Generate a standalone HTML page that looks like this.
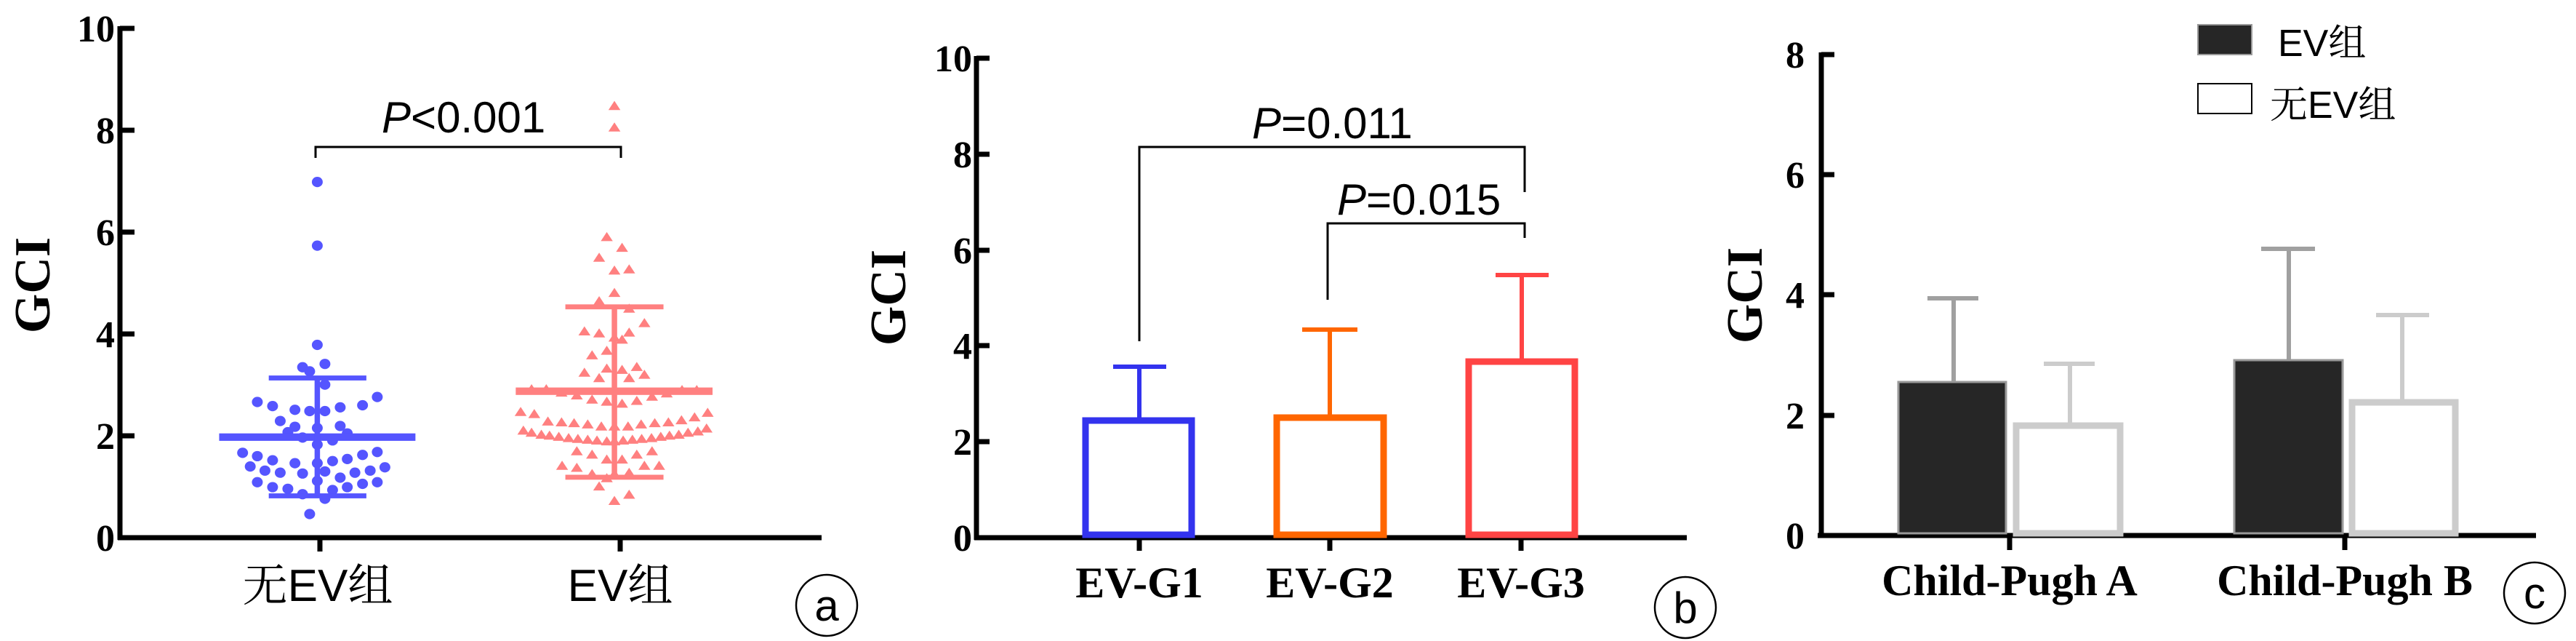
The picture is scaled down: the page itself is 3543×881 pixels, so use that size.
<!DOCTYPE html>
<html><head><meta charset="utf-8"><style>
html,body{margin:0;padding:0;background:#fff;}
svg{display:block}
.tk{font-family:"Liberation Serif",serif;font-weight:bold;font-size:52px;fill:#000}
.gci{font-family:"Liberation Serif",serif;font-weight:bold;font-size:70px;fill:#000}
.cat{font-family:"Liberation Sans","Noto Serif CJK SC",serif;font-size:62px;fill:#000}
.catb{font-family:"Liberation Serif",serif;font-weight:bold;font-size:60px;fill:#000}
.p{font-family:"Liberation Sans",sans-serif;font-size:60px;fill:#000}
.lg{font-family:"Liberation Sans","Noto Serif CJK SC",serif;font-size:52px;fill:#000}
.lt{font-family:"Liberation Sans",sans-serif;font-size:60px;fill:#000}
</style></head><body>
<svg width="3543" height="881" viewBox="0 0 3543 881" xmlns="http://www.w3.org/2000/svg">
<defs>
<ellipse id="d" cx="0" cy="0" rx="10" ry="12.5" fill="#5555ff"/>
<path id="t" d="M-11,11 L11,11 L0,-11 Z" fill="#ff8080"/>
</defs>
<!-- PANEL A -->
<g stroke="#000" stroke-width="7" fill="none">
<line x1="165" y1="36" x2="165" y2="742"/>
<line x1="162" y1="739" x2="1130" y2="739"/>
<line x1="165" y1="39" x2="185" y2="39"/><line x1="165" y1="179" x2="185" y2="179"/><line x1="165" y1="319" x2="185" y2="319"/><line x1="165" y1="459" x2="185" y2="459"/><line x1="165" y1="599" x2="185" y2="599"/>
<line x1="440" y1="739" x2="440" y2="758"/><line x1="853" y1="739" x2="853" y2="758"/>
</g>
<g class="tk" text-anchor="end">
<text x="158" y="57">10</text><text x="158" y="197">8</text><text x="158" y="337">6</text><text x="158" y="477">4</text><text x="158" y="617">2</text><text x="158" y="757">0</text>
</g>
<text class="gci" transform="translate(68,392) rotate(-90)" text-anchor="middle">GCI</text>
<text class="cat" x="437" y="826" text-anchor="middle">无EV组</text>
<text class="cat" x="853" y="826" text-anchor="middle">EV组</text>
<text class="p" x="525" y="182"><tspan font-style="italic">P</tspan>&lt;0.001</text>
<path d="M434,217 V202 H854 V217" stroke="#000" stroke-width="3" fill="none"/>
<circle cx="1137" cy="832" r="42" stroke="#000" stroke-width="2.5" fill="none"/>
<text class="lt" x="1137" y="853" text-anchor="middle">a</text>
<svg x="0" y="0" width="1181" height="881" viewBox="0 0 1575 1550" preserveAspectRatio="none">
<g>
<use href="#d" x="582" y="440"/><use href="#d" x="582" y="594"/><use href="#d" x="582" y="834"/><use href="#d" x="555" y="888"/><use href="#d" x="568" y="898"/><use href="#d" x="596" y="880"/><use href="#d" x="596" y="930"/><use href="#d" x="472" y="972"/><use href="#d" x="500" y="982"/><use href="#d" x="541" y="991"/><use href="#d" x="568" y="994"/><use href="#d" x="596" y="994"/><use href="#d" x="624" y="985"/><use href="#d" x="665" y="980"/><use href="#d" x="692" y="960"/><use href="#d" x="514" y="1018"/><use href="#d" x="541" y="1032"/><use href="#d" x="582" y="1035"/><use href="#d" x="624" y="1030"/><use href="#d" x="528" y="1045"/><use href="#d" x="555" y="1058"/><use href="#d" x="610" y="1065"/><use href="#d" x="637" y="1048"/><use href="#d" x="445" y="1095"/><use href="#d" x="472" y="1103"/><use href="#d" x="500" y="1113"/><use href="#d" x="541" y="1120"/><use href="#d" x="582" y="1120"/><use href="#d" x="610" y="1115"/><use href="#d" x="637" y="1110"/><use href="#d" x="665" y="1100"/><use href="#d" x="692" y="1093"/><use href="#d" x="459" y="1128"/><use href="#d" x="486" y="1138"/><use href="#d" x="514" y="1143"/><use href="#d" x="555" y="1145"/><use href="#d" x="596" y="1140"/><use href="#d" x="651" y="1143"/><use href="#d" x="679" y="1138"/><use href="#d" x="706" y="1130"/><use href="#d" x="472" y="1166"/><use href="#d" x="500" y="1178"/><use href="#d" x="528" y="1182"/><use href="#d" x="582" y="1163"/><use href="#d" x="624" y="1155"/><use href="#d" x="665" y="1170"/><use href="#d" x="692" y="1166"/><use href="#d" x="555" y="1195"/><use href="#d" x="596" y="1206"/><use href="#d" x="637" y="1178"/><use href="#d" x="610" y="1185"/><use href="#d" x="568" y="1243"/><use href="#d" x="582" y="1075"/>
</g>
<g fill="#5555ff">
<rect x="402" y="1048" width="360" height="18"/>
<rect x="493" y="908" width="179" height="12"/>
<rect x="493" y="1193" width="179" height="12"/>
<rect x="577" y="914" width="10" height="285"/>
</g>
<g>
<use href="#t" x="1127" y="255"/><use href="#t" x="1127" y="307"/><use href="#t" x="1113" y="572"/><use href="#t" x="1141" y="598"/><use href="#t" x="1099" y="622"/><use href="#t" x="1127" y="653"/><use href="#t" x="1154" y="650"/><use href="#t" x="1099" y="727"/><use href="#t" x="1127" y="707"/><use href="#t" x="1154" y="745"/><use href="#t" x="1182" y="780"/><use href="#t" x="1072" y="800"/><use href="#t" x="1099" y="805"/><use href="#t" x="1127" y="815"/><use href="#t" x="1141" y="820"/><use href="#t" x="1154" y="803"/><use href="#t" x="1086" y="858"/><use href="#t" x="1113" y="847"/><use href="#t" x="1072" y="900"/><use href="#t" x="1099" y="913"/><use href="#t" x="1113" y="890"/><use href="#t" x="1141" y="893"/><use href="#t" x="1154" y="913"/><use href="#t" x="1168" y="886"/><use href="#t" x="1182" y="905"/><use href="#t" x="975" y="940"/><use href="#t" x="1002" y="940"/><use href="#t" x="1030" y="948"/><use href="#t" x="1058" y="955"/><use href="#t" x="1086" y="965"/><use href="#t" x="1113" y="970"/><use href="#t" x="1141" y="975"/><use href="#t" x="1168" y="968"/><use href="#t" x="1196" y="958"/><use href="#t" x="1223" y="950"/><use href="#t" x="1251" y="942"/><use href="#t" x="1278" y="942"/><use href="#t" x="955" y="995"/><use href="#t" x="980" y="1000"/><use href="#t" x="1005" y="1018"/><use href="#t" x="1030" y="1020"/><use href="#t" x="1053" y="1022"/><use href="#t" x="1078" y="1025"/><use href="#t" x="1103" y="1030"/><use href="#t" x="1127" y="1030"/><use href="#t" x="1152" y="1030"/><use href="#t" x="1176" y="1025"/><use href="#t" x="1201" y="1022"/><use href="#t" x="1226" y="1020"/><use href="#t" x="1250" y="1015"/><use href="#t" x="1274" y="1008"/><use href="#t" x="1298" y="997"/><use href="#t" x="960" y="1040"/><use href="#t" x="975" y="1045"/><use href="#t" x="993" y="1050"/><use href="#t" x="1008" y="1052"/><use href="#t" x="1025" y="1055"/><use href="#t" x="1043" y="1058"/><use href="#t" x="1060" y="1060"/><use href="#t" x="1078" y="1062"/><use href="#t" x="1095" y="1064"/><use href="#t" x="1113" y="1066"/><use href="#t" x="1127" y="1066"/><use href="#t" x="1143" y="1064"/><use href="#t" x="1160" y="1062"/><use href="#t" x="1177" y="1060"/><use href="#t" x="1195" y="1058"/><use href="#t" x="1212" y="1055"/><use href="#t" x="1228" y="1052"/><use href="#t" x="1245" y="1050"/><use href="#t" x="1262" y="1045"/><use href="#t" x="1280" y="1042"/><use href="#t" x="1296" y="1035"/><use href="#t" x="1058" y="1090"/><use href="#t" x="1086" y="1098"/><use href="#t" x="1113" y="1110"/><use href="#t" x="1141" y="1110"/><use href="#t" x="1168" y="1098"/><use href="#t" x="1196" y="1090"/><use href="#t" x="1031" y="1125"/><use href="#t" x="1058" y="1130"/><use href="#t" x="1086" y="1145"/><use href="#t" x="1127" y="1145"/><use href="#t" x="1154" y="1142"/><use href="#t" x="1182" y="1125"/><use href="#t" x="1209" y="1125"/><use href="#t" x="1113" y="1155"/><use href="#t" x="1099" y="1175"/><use href="#t" x="1127" y="1210"/><use href="#t" x="1154" y="1195"/>
</g>
<g fill="#ff8080">
<rect x="946" y="937" width="361" height="18"/>
<rect x="1037" y="736" width="180" height="12"/>
<rect x="1037" y="1148" width="180" height="12"/>
<rect x="1122" y="741" width="10" height="412"/>
</g>
</svg>

<!-- PANEL B -->
<g stroke="#000" stroke-width="7" fill="none">
<line x1="1343" y1="77" x2="1343" y2="742"/>
<line x1="1340" y1="739" x2="2320" y2="739"/>
<line x1="1343" y1="80" x2="1361" y2="80"/><line x1="1343" y1="212" x2="1361" y2="212"/><line x1="1343" y1="344" x2="1361" y2="344"/><line x1="1343" y1="475" x2="1361" y2="475"/><line x1="1343" y1="607" x2="1361" y2="607"/>
<line x1="1567" y1="739" x2="1567" y2="757"/><line x1="1829" y1="739" x2="1829" y2="757"/><line x1="2092" y1="739" x2="2092" y2="757"/>
</g>
<g class="tk" text-anchor="end">
<text x="1337" y="98">10</text><text x="1337" y="230">8</text><text x="1337" y="362">6</text><text x="1337" y="493">4</text><text x="1337" y="625">2</text><text x="1337" y="757">0</text>
</g>
<text class="gci" transform="translate(1245,409) rotate(-90)" text-anchor="middle">GCI</text>
<g fill="none" stroke-width="9">
<rect x="1493" y="578" width="146" height="157" stroke="#3333ee"/>
<rect x="1756" y="574" width="147" height="161" stroke="#ff6600"/>
<rect x="2020" y="497" width="146" height="238" stroke="#ff4444"/>
</g>
<g stroke-width="6">
<line x1="1567" y1="574" x2="1567" y2="504" stroke="#3333ee"/><line x1="1531" y1="504" x2="1604" y2="504" stroke="#3333ee"/>
<line x1="1829" y1="570" x2="1829" y2="453" stroke="#ff6600"/><line x1="1791" y1="453" x2="1867" y2="453" stroke="#ff6600"/>
<line x1="2093" y1="493" x2="2093" y2="378" stroke="#ff4444"/><line x1="2057" y1="378" x2="2130" y2="378" stroke="#ff4444"/>
</g>
<path d="M1567,469 V202 H2097 V264" stroke="#000" stroke-width="3" fill="none"/>
<path d="M1826,412 V307 H2097 V327" stroke="#000" stroke-width="3" fill="none"/>
<text class="p" x="1722" y="190"><tspan font-style="italic">P</tspan>=0.011</text>
<text class="p" x="1839" y="295"><tspan font-style="italic">P</tspan>=0.015</text>
<g class="catb" text-anchor="middle">
<text x="1567" y="821">EV-G1</text><text x="1829" y="821">EV-G2</text><text x="2092" y="821">EV-G3</text>
</g>
<circle cx="2318" cy="835" r="42" stroke="#000" stroke-width="2.5" fill="none"/>
<text class="lt" x="2318" y="856" text-anchor="middle">b</text>

<!-- PANEL C -->
<g stroke="#000" stroke-width="7" fill="none">
<line x1="2505" y1="72" x2="2505" y2="739"/>
<line x1="2500" y1="736" x2="3488" y2="736"/>
<line x1="2505" y1="75" x2="2523" y2="75"/><line x1="2505" y1="240" x2="2523" y2="240"/><line x1="2505" y1="405" x2="2523" y2="405"/><line x1="2505" y1="571" x2="2523" y2="571"/>
<line x1="2764" y1="736" x2="2764" y2="756"/><line x1="3225" y1="736" x2="3225" y2="756"/>
</g>
<g class="tk" text-anchor="end">
<text x="2482" y="93">8</text><text x="2482" y="258">6</text><text x="2482" y="423">4</text><text x="2482" y="589">2</text><text x="2482" y="754">0</text>
</g>
<text class="gci" transform="translate(2423,406) rotate(-90)" text-anchor="middle">GCI</text>
<g stroke-width="6">
<line x1="2687" y1="524" x2="2687" y2="410" stroke="#a0a0a0"/><line x1="2651" y1="410" x2="2721" y2="410" stroke="#a0a0a0"/>
<line x1="2847" y1="581" x2="2847" y2="500" stroke="#cccccc"/><line x1="2811" y1="500" x2="2881" y2="500" stroke="#cccccc"/>
<line x1="3148" y1="494" x2="3148" y2="342" stroke="#a0a0a0"/><line x1="3110" y1="342" x2="3184" y2="342" stroke="#a0a0a0"/>
<line x1="3304" y1="549" x2="3304" y2="433" stroke="#cccccc"/><line x1="3268" y1="433" x2="3341" y2="433" stroke="#cccccc"/>
</g>
<rect x="2611" y="525" width="148" height="208" fill="#262626" stroke="#999" stroke-width="3"/>
<rect x="2773" y="585" width="143" height="148" fill="none" stroke="#cccccc" stroke-width="9"/>
<rect x="3073" y="495" width="149" height="238" fill="#262626" stroke="#999" stroke-width="3"/>
<rect x="3235" y="553" width="142" height="180" fill="none" stroke="#cccccc" stroke-width="9"/>
<rect x="3023" y="34" width="74" height="41" fill="#262626" stroke="#999" stroke-width="2"/>
<rect x="3023" y="115" width="74" height="41" fill="#fff" stroke="#000" stroke-width="2"/>
<text class="lg" x="3133" y="77">EV组</text>
<text class="lg" x="3122" y="162">无EV组</text>
<g class="catb" text-anchor="middle">
<text x="2764" y="818">Child-Pugh A</text><text x="3225" y="818">Child-Pugh B</text>
</g>
<circle cx="3486" cy="815" r="42" stroke="#000" stroke-width="2.5" fill="none"/>
<text class="lt" x="3486" y="836" text-anchor="middle">c</text>
</svg>
</body></html>
